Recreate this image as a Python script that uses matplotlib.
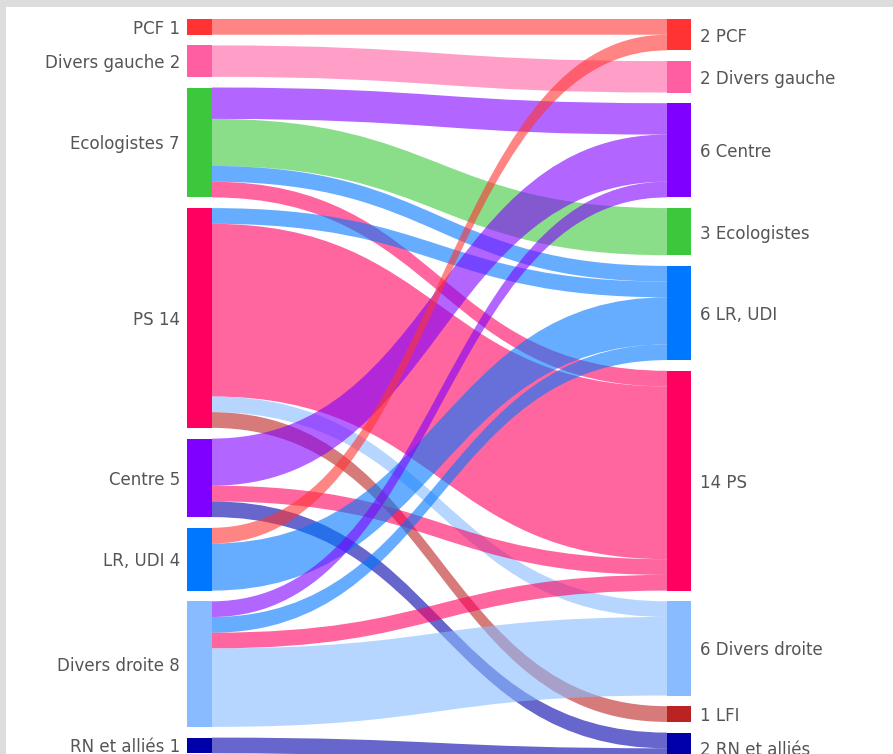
import matplotlib.pyplot as plt
from matplotlib.path import Path
from matplotlib.patches import PathPatch, Rectangle

# noeuds (gauche = avant, droite = après)
left_names = ["PCF", "Divers gauche", "Ecologistes", "PS", "Centre", "LR, UDI", "Divers droite", "RN et alliés"]
right_names = ["PCF", "Divers gauche", "Centre", "Ecologistes", "LR, UDI", "PS", "Divers droite", "LFI", "RN et alliés"]

colors = {
    "PCF": "#ff3333",
    "Divers gauche": "#ff5fa2",
    "Ecologistes": "#3cc83c",
    "PS": "#ff0060",
    "Centre": "#8000ff",
    "LR, UDI": "#0077ff",
    "Divers droite": "#88bbff",
    "LFI": "#bb2222",
    "RN et alliés": "#0000aa",
}

# flux
sources = ["PCF", "Divers gauche",
           "Ecologistes", "Ecologistes", "Ecologistes", "Ecologistes",
           "PS", "PS", "PS", "PS",
           "Centre", "Centre", "Centre",
           "LR, UDI", "LR, UDI",
           "Divers droite", "Divers droite", "Divers droite", "Divers droite",
           "RN et alliés"]
targets = ["PCF", "Divers gauche",
           "Centre", "Ecologistes", "LR, UDI", "PS",
           "LR, UDI", "PS", "Divers droite", "LFI",
           "Centre", "PS", "RN et alliés",
           "PCF", "LR, UDI",
           "Centre", "LR, UDI", "PS", "Divers droite",
           "RN et alliés"]
values = [1, 2,
          2, 3, 1, 1,
          1, 11, 1, 1,
          3, 1, 1,
          1, 3,
          1, 1, 1, 5,
          1]

# mise en page (pixels)
W, H = 893, 754
unit = 15.7
gap = 10.7
top = 19
xl0, xl1 = 187, 212
xr0, xr1 = 667, 691


def layout(names, key):
    pos = {}
    y = top
    for n in names:
        tot = sum(v for k, v in zip(key, values) if k == n)
        pos[n] = (y, tot)
        y += tot * unit + gap
    return pos


lpos = layout(left_names, sources)
rpos = layout(right_names, targets)

fig = plt.figure(figsize=(W / 100, H / 100), dpi=100)
fig.patch.set_facecolor("#dddddd")
ax = fig.add_axes([0, 0, 1, 1])
ax.set_xlim(0, W)
ax.set_ylim(H, 0)
ax.axis("off")
ax.add_patch(Rectangle((6, 7), W, H, facecolor="white", edgecolor="none"))

# ordre des liens : par cible au départ, par source à l'arrivée
idx = list(range(len(values)))
lcur = {n: lpos[n][0] for n in left_names}
rcur = {n: rpos[n][0] for n in right_names}
y0s, y1s = {}, {}
for i in sorted(idx, key=lambda i: (left_names.index(sources[i]), right_names.index(targets[i]))):
    y0s[i] = lcur[sources[i]]
    lcur[sources[i]] += values[i] * unit
for i in sorted(idx, key=lambda i: (right_names.index(targets[i]), left_names.index(sources[i]))):
    y1s[i] = rcur[targets[i]]
    rcur[targets[i]] += values[i] * unit

xm = (xl1 + xr0) / 2
for i in idx:
    h = values[i] * unit
    a, b = y0s[i], y1s[i]
    verts = [(xl1, a), (xm, a), (xm, b), (xr0, b),
             (xr0, b + h),
             (xm, b + h), (xm, a + h), (xl1, a + h),
             (xl1, a)]
    codes = [Path.MOVETO, Path.CURVE4, Path.CURVE4, Path.CURVE4,
             Path.LINETO,
             Path.CURVE4, Path.CURVE4, Path.CURVE4,
             Path.CLOSEPOLY]
    ax.add_patch(PathPatch(Path(verts, codes), facecolor=colors[targets[i]],
                           alpha=0.6, edgecolor="none", zorder=2))

txt = dict(fontsize=12, color="#555555", family="DejaVu Sans", va="center")
for n in left_names:
    y, tot = lpos[n]
    ax.add_patch(Rectangle((xl0, y), xl1 - xl0, tot * unit, facecolor=colors[n],
                           edgecolor="none", zorder=3))
    ax.text(180, y + tot * unit / 2 + 2, f"{n} {tot}", ha="right", **txt)

for n in right_names:
    y, tot = rpos[n]
    ax.add_patch(Rectangle((xr0, y), xr1 - xr0, tot * unit, facecolor=colors[n],
                           edgecolor="none", zorder=3))
    ax.text(700, y + tot * unit / 2 + 2, f"{tot} {n}", ha="left", **txt)

fig.savefig("out.png", dpi=100, facecolor=fig.get_facecolor())
